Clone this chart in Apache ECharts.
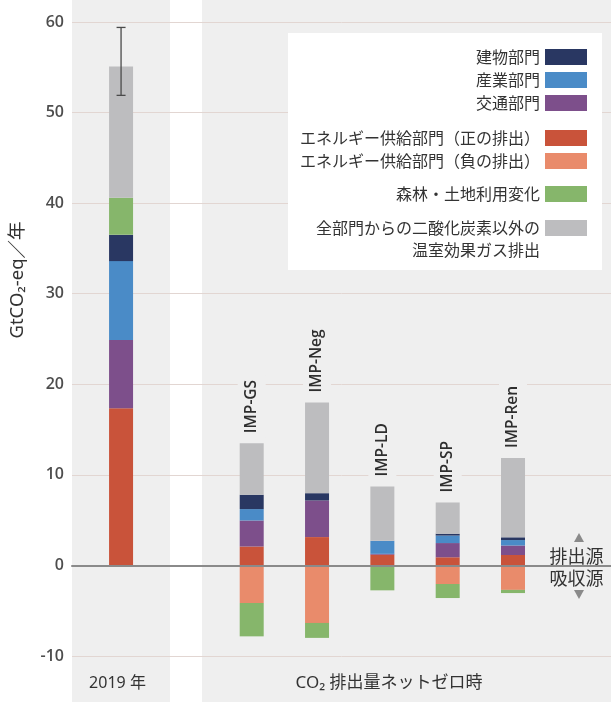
<!DOCTYPE html>
<html><head><meta charset="utf-8">
<script src="https://cdn.jsdelivr.net/npm/echarts@6/dist/echarts.min.js"></script>
<style>html,body{margin:0;padding:0;background:#fff}#c{width:611px;height:702px}</style>
</head><body><div id="c"></div>
<script>
// ---- data ----
const categories = ['2019', 'gap', 'IMP-GS', 'IMP-Neg', 'IMP-LD', 'IMP-SP', 'IMP-Ren', 'pad'];
const energyPositive = [17.35, '-', 2.09, 3.13, 1.18, 0.9, 1.15, '-'];
const transport      = [7.55, '-', 2.87, 4.04, 0.1, 1.57, 1.05, '-'];
const industry       = [8.7, '-', 1.26, 0, 1.44, 0.83, 0.6, '-'];
const buildings      = [2.9, '-', 1.58, 0.81, 0, 0.2, 0.3, '-'];
const energyNegative = [0, '-', -4.15, -6.35, 0, -2.05, -2.7, '-'];
const landUse        = [4.1, '-', -3.68, -1.65, -2.75, -1.55, -0.35, '-'];
const nonCO2         = [14.5, '-', 5.7, 10.0, 6.0, 3.45, 8.75, '-'];
const errorBar2019   = [51.9, 59.4];
const yMin = -10, yMax = 60, yStep = 10;

const names = {
  buildings: '建物部門',
  industry: '産業部門',
  transport: '交通部門',
  ePos: 'エネルギー供給部門（正の排出）',
  eNeg: 'エネルギー供給部門（負の排出）',
  land: '森林・土地利用変化',
  non: '全部門からの二酸化炭素以外の'
};
const colors = {
  buildings: '#293762', industry: '#4a8bc7', transport: '#7d4f8b',
  ePos: '#c9533a', eNeg: '#e98b6b', land: '#86b66b', non: '#bdbdbf'
};
const panelColor = '#efefef';
const jp = "'Noto Sans CJK JP', sans-serif";
const mixed = "'Noto Sans', 'Noto Sans CJK JP', sans-serif";

const chart = echarts.init(document.getElementById('c'), null, {renderer: 'canvas'});

function barSeries(key, data) {
  return {
    name: names[key], type: 'bar', stack: 'total', xAxisIndex: 2, yAxisIndex: 2,
    barWidth: 24, data: data, itemStyle: {color: colors[key]}, z: 2, silent: true
  };
}

const nonSeries = barSeries('non', nonCO2.map((v, i) => ({
  value: v, label: {show: categories[i].indexOf('IMP') === 0}
})));
nonSeries.label = {
  show: false, position: 'top', rotate: 90, align: 'left', verticalAlign: 'middle',
  distance: 6, formatter: p => p.name, color: '#2e2e2e', fontSize: 15.5, fontWeight: 600,
  fontFamily: "'Open Sans', sans-serif", backgroundColor: panelColor, padding: [6, 4]
};

const legendCommon = {
  orient: 'vertical', right: 24, align: 'right', itemWidth: 42, itemHeight: 16,
  itemGap: 7, icon: 'rect', padding: 0, selectedMode: false,
  textStyle: {fontSize: 16, color: '#333', fontFamily: jp}
};

const option = {
  animation: false,
  backgroundColor: '#fff',
  grid: [
    {left: 72, right: 0, top: 0, bottom: 0},
    {left: 72, right: 0, top: 22, bottom: 46},
    {left: 88.4, right: 0, top: 22, bottom: 46}
  ],
  xAxis: [
    {gridIndex: 0, type: 'value', min: 0, max: 539, show: false},
    {gridIndex: 1, type: 'value', min: 0, max: 1, z: 3,
     axisLine: {show: true, onZero: true, lineStyle: {color: '#8a8a8a', width: 2}},
     axisTick: {show: false}, axisLabel: {show: false}, splitLine: {show: false}},
    {gridIndex: 2, type: 'category', data: categories, show: false}
  ],
  yAxis: [
    {gridIndex: 0, type: 'value', min: 0, max: 1, show: false},
    {gridIndex: 1, type: 'value', min: yMin, max: yMax, interval: yStep, z: 1,
     axisLine: {show: false}, axisTick: {show: false},
     axisLabel: {margin: 8, color: '#4d4d4d', fontSize: 16, fontWeight: 600, fontFamily: "'Open Sans', sans-serif"},
     splitLine: {lineStyle: {color: '#e2d6d2', width: 1}}},
    {gridIndex: 2, type: 'value', min: yMin, max: yMax, interval: yStep, show: false}
  ],
  legend: [
    Object.assign({}, legendCommon, {top: 49, data: [names.buildings, names.industry, names.transport]}),
    Object.assign({}, legendCommon, {top: 130, data: [names.ePos, names.eNeg]}),
    Object.assign({}, legendCommon, {top: 186, data: [names.land]}),
    Object.assign({}, legendCommon, {top: 220, data: [names.non]})
  ],
  series: [
    {
      type: 'custom', xAxisIndex: 0, yAxisIndex: 0, z: 0, silent: true,
      data: [[0, 98], [130, 539]],
      encode: {x: [0, 1]},
      renderItem: function (params, api) {
        const a = api.coord([api.value(0), 1]);
        const b = api.coord([api.value(1), 0]);
        return {type: 'rect', shape: {x: a[0], y: a[1], width: b[0] - a[0], height: b[1] - a[1]},
                style: {fill: panelColor}};
      }
    },
    barSeries('ePos', energyPositive),
    barSeries('transport', transport),
    barSeries('industry', industry),
    barSeries('buildings', buildings),
    barSeries('eNeg', energyNegative),
    barSeries('land', landUse),
    nonSeries,
    {
      type: 'custom', xAxisIndex: 2, yAxisIndex: 2, z: 5, silent: true,
      data: [[0, errorBar2019[0], errorBar2019[1]]],
      encode: {x: 0, y: [1, 2]},
      renderItem: function (params, api) {
        const lo = api.coord([api.value(0), api.value(1)]);
        const hi = api.coord([api.value(0), api.value(2)]);
        const hw = 4.5;
        const st = {stroke: '#4a4a4a', lineWidth: 1.3};
        return {type: 'group', children: [
          {type: 'line', shape: {x1: lo[0], y1: lo[1], x2: hi[0], y2: hi[1]}, style: st},
          {type: 'line', shape: {x1: lo[0] - hw, y1: lo[1], x2: lo[0] + hw, y2: lo[1]}, style: st},
          {type: 'line', shape: {x1: hi[0] - hw, y1: hi[1], x2: hi[0] + hw, y2: hi[1]}, style: st}
        ]};
      }
    }
  ],
  graphic: [
    {type: 'rect', z: 3, shape: {x: 288, y: 33, width: 314, height: 237}, style: {fill: '#fff'}},
    {type: 'text', z: 5, x: 540, y: 250, style: {text: '温室効果ガス排出', align: 'right', verticalAlign: 'middle', fontSize: 16, fill: '#333', fontFamily: jp}},
    {type: 'text', z: 5, x: 18, y: 280, rotation: Math.PI / 2, style: {text: 'GtCO₂-eq／年', align: 'center', verticalAlign: 'middle', fontSize: 18.5, fill: '#333', fontFamily: mixed}},
    {type: 'text', z: 5, x: 117.5, y: 683, style: {text: '2019 年', align: 'center', verticalAlign: 'middle', fontSize: 16, fill: '#333', fontFamily: mixed}},
    {type: 'text', z: 5, x: 389, y: 683, style: {text: 'CO₂ 排出量ネットゼロ時', align: 'center', verticalAlign: 'middle', fontSize: 17, fill: '#333', fontFamily: mixed}},
    {type: 'text', z: 5, x: 576.5, y: 556.5, style: {text: '排出源', align: 'center', verticalAlign: 'middle', fontSize: 18, fill: '#333', fontFamily: jp}},
    {type: 'text', z: 5, x: 576.5, y: 578.5, style: {text: '吸収源', align: 'center', verticalAlign: 'middle', fontSize: 18, fill: '#333', fontFamily: jp}},
    {type: 'polygon', z: 5, shape: {points: [[574, 542], [584, 542], [579, 533]]}, style: {fill: '#8a8a8a'}},
    {type: 'polygon', z: 5, shape: {points: [[574, 590], [584, 590], [579, 599]]}, style: {fill: '#8a8a8a'}}
  ]
};
chart.setOption(option);
</script></body></html>
